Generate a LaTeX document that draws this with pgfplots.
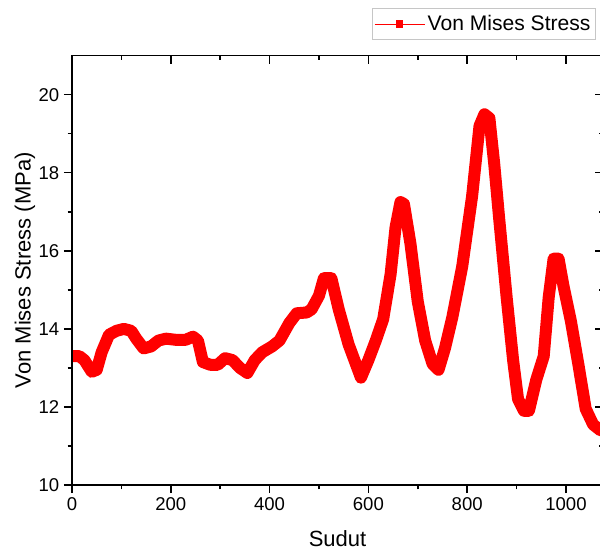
\documentclass[border=0pt]{standalone}
\usepackage{fontspec}
\setmainfont{Liberation Sans}
\usepackage{pgfplots}
\pgfplotsset{compat=1.18}

\definecolor{curvered}{RGB}{255,0,0}

\begin{document}
\begin{tikzpicture}
% the reference is cut off on the right, so crop the page the same way
\path[use as bounding box] (0,0) rectangle (450pt,413.25pt);
\clip (0,0) rectangle (450pt,413.25pt);

\pgfplotsset{
  vmaxis/.style={
    at={(54pt,49.5pt)}, anchor=south west,
    scale only axis, width=398.25pt, height=322pt,
    xmin=0, xmax=1075, ymin=10, ymax=21,
    xtick={0,200,...,1000}, ytick={10,12,...,20},
    minor x tick num=1, minor y tick num=1,
    axis line style={line width=1.1pt},
    every tick/.style={black, line width=1.1pt},
    major tick length=6pt, minor tick length=3.2pt,
  }
}

\begin{axis}[
  vmaxis,
  tick align=outside,
  xtick pos=bottom, ytick pos=left,
  /pgf/number format/assume math mode=true,
  /pgf/number format/1000 sep={},
  ticklabel style={font=\fontsize{13.9}{16}\selectfont},
  xlabel={Sudut},
  ylabel={Von Mises Stress (MPa)},
  label style={font=\fontsize{16.5}{19}\selectfont},
  xlabel style={at={(axis description cs:0.5,-0.124)}, anchor=center},
  ylabel style={at={(axis description cs:-0.0885,0.5)}, anchor=center},
  legend style={at={(rel axis cs:0.5644,1.1104)}, anchor=north west,
    draw=gray!45, line width=0.6pt, fill=white,
    font=\fontsize{15.8}{18}\selectfont,
    inner xsep=1.5pt, inner ysep=3pt},
  legend image code/.code={
    \draw[curvered, line width=0.7pt] (0pt,0pt) -- (37.5pt,0pt);
    \path[fill=curvered, draw=none] (16pt,-2.7pt) rectangle (21.5pt,2.7pt);
  },
]
\addplot[curvered, line width=9pt, line join=round] coordinates {
  (0,13.3) (15,13.3) (25,13.2) (40,12.9) (50,12.95) (60,13.4) (75,13.85)
  (90,13.95) (105,14.0) (120,13.95) (130,13.75) (145,13.5) (160,13.55)
  (175,13.7) (190,13.75) (210,13.72) (230,13.72) (245,13.8) (255,13.7)
  (265,13.15) (280,13.08) (295,13.08) (310,13.25) (325,13.2) (340,13.0)
  (355,12.87) (370,13.2) (385,13.4) (405,13.55) (420,13.7) (440,14.15)
  (455,14.4) (475,14.42) (485,14.5) (500,14.85) (510,15.3) (525,15.3)
  (540,14.5) (560,13.6) (585,12.75) (600,13.2) (615,13.7) (630,14.25)
  (645,15.4) (655,16.6) (665,17.25) (672,17.2) (685,16.2) (700,14.7)
  (715,13.7) (730,13.1) (742,12.95) (755,13.5) (770,14.3) (790,15.6)
  (810,17.4) (825,19.2) (835,19.5) (845,19.4) (855,18.2) (865,16.8)
  (880,14.8) (893,13.2) (903,12.2) (915,11.9) (925,11.9) (940,12.7)
  (955,13.3) (965,14.8) (975,15.8) (985,15.8) (995,15.1) (1010,14.2)
  (1025,13.1) (1040,11.95) (1055,11.55) (1070,11.4) (1080,11.4)
};
\addlegendentry{Von Mises Stress}
\end{axis}

% mirrored ticks on top and right point inwards
\begin{axis}[
  vmaxis,
  tick align=inside,
  xtick pos=top, ytick pos=right,
  xticklabels={}, yticklabels={},
]
\end{axis}
\end{tikzpicture}
\end{document}
